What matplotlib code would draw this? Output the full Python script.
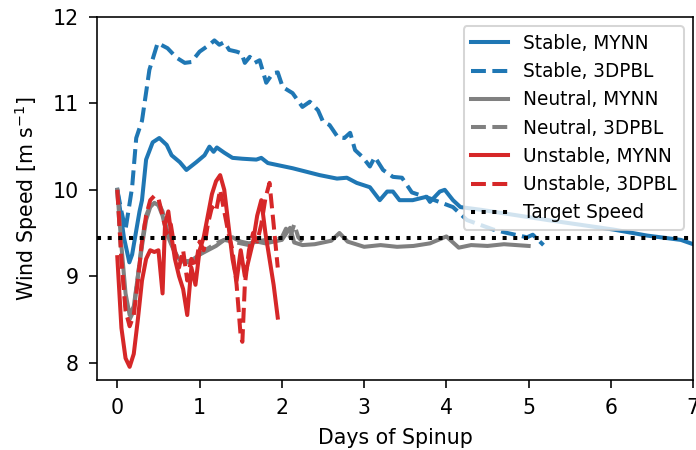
import numpy as np
import matplotlib
matplotlib.use('Agg')
import matplotlib.pyplot as plt

# Stable runs
stab_mynn_x = [0, 0.08, 0.146, 0.18, 0.27, 0.3, 0.35, 0.43, 0.51, 0.6, 0.66, 0.76, 0.84, 0.96,
               1.06, 1.12, 1.17, 1.21, 1.3, 1.4, 1.52, 1.69, 1.75, 1.83, 2.13, 2.46, 2.67,
               2.79, 2.91, 3.07, 3.19, 3.28, 3.35, 3.43, 3.59, 3.76, 3.8, 3.92, 3.98, 4.08,
               4.17, 4.41, 5.23, 6.03, 6.44, 6.85, 7.0]
stab_mynn_y = [10.0, 9.45, 9.16, 9.25, 9.75, 9.88, 10.35, 10.55, 10.6, 10.52, 10.4, 10.32, 10.23, 10.32,
               10.4, 10.5, 10.44, 10.49, 10.43, 10.37, 10.36, 10.35, 10.37, 10.31, 10.25, 10.17, 10.13,
               10.14, 10.08, 10.03, 9.88, 9.98, 9.98, 9.88, 9.88, 9.92, 9.86, 9.98, 10.0, 9.88,
               9.8, 9.77, 9.65, 9.54, 9.47, 9.42, 9.37]
stab_3d_x = [0, 0.05, 0.1, 0.18, 0.23, 0.3, 0.39, 0.49, 0.61, 0.72, 0.82, 0.9, 1.0, 1.12, 1.18,
             1.24, 1.3, 1.36, 1.45, 1.51, 1.55, 1.61, 1.67, 1.73, 1.81, 1.89, 1.95, 2.01, 2.13,
             2.25, 2.34, 2.44, 2.5, 2.58, 2.68, 2.76, 2.83, 2.89, 2.98, 3.07, 3.13, 3.23, 3.35,
             3.46, 3.58, 3.8, 4.08, 4.25, 4.57, 4.74, 4.98, 5.05, 5.18]
stab_3d_y = [10.0, 9.75, 9.54, 10.03, 10.6, 10.8, 11.39, 11.7, 11.64, 11.53, 11.47, 11.48, 11.6, 11.68, 11.73,
             11.68, 11.71, 11.62, 11.6, 11.58, 11.47, 11.54, 11.47, 11.5, 11.24, 11.35, 11.36, 11.19, 11.12,
             10.96, 11.02, 10.92, 10.79, 10.75, 10.61, 10.6, 10.66, 10.46, 10.38, 10.27, 10.38, 10.23, 10.15,
             10.14, 9.97, 9.9, 9.8, 9.65, 9.54, 9.5, 9.45, 9.48, 9.36]

# Neutral runs
neut_mynn_x = [0, 0.05, 0.1, 0.15, 0.2, 0.25, 0.3, 0.35, 0.4, 0.45, 0.5, 0.55, 0.6, 0.65, 0.7, 0.75,
               0.8, 0.9, 1.0, 1.1, 1.2, 1.3, 1.4, 1.5, 1.6, 1.7, 1.8, 1.9, 2.0, 2.1, 2.15, 2.25,
               2.4, 2.6, 2.7, 2.8, 3.0, 3.2, 3.4, 3.6, 3.8, 4.0, 4.15, 4.3, 4.5, 4.7, 4.85, 5.0]
neut_mynn_y = [10.0, 9.35, 8.8, 8.55, 8.65, 9.0, 9.35, 9.65, 9.8, 9.85, 9.82, 9.7, 9.5, 9.38, 9.27, 9.2,
               9.17, 9.18, 9.25, 9.3, 9.35, 9.42, 9.45, 9.4, 9.38, 9.4, 9.38, 9.4, 9.42, 9.56, 9.39, 9.36,
               9.37, 9.41, 9.5, 9.4, 9.34, 9.36, 9.34, 9.35, 9.38, 9.46, 9.33, 9.36, 9.35, 9.37, 9.36, 9.35]
neut_3d_x = [0, 0.05, 0.1, 0.15, 0.2, 0.25, 0.3, 0.35, 0.4, 0.45, 0.5, 0.55, 0.6, 0.65, 0.7, 0.75,
             0.8, 0.85, 0.9, 0.95, 1.0, 1.1, 1.2, 1.3, 1.4, 1.5, 1.6, 1.7, 1.8, 1.9, 2.0, 2.05,
             2.1, 2.15, 2.2, 2.25]
neut_3d_y = [10.0, 9.2, 8.65, 8.5, 8.6, 9.0, 9.4, 9.7, 9.82, 9.87, 9.85, 9.75, 9.55, 9.4, 9.28, 9.2,
             9.17, 9.16, 9.16, 9.2, 9.25, 9.32, 9.38, 9.42, 9.4, 9.38, 9.36, 9.4, 9.42, 9.4, 9.45, 9.55,
             9.45, 9.6, 9.45, 9.4]

# Unstable runs
unst_mynn_x = [0, 0.05, 0.1, 0.15, 0.2, 0.25, 0.3, 0.35, 0.4, 0.45, 0.5, 0.55, 0.58, 0.62, 0.66, 0.7,
               0.75, 0.8, 0.85, 0.9, 0.95, 1.0, 1.05, 1.1, 1.15, 1.2, 1.25, 1.3, 1.35, 1.4, 1.45,
               1.5, 1.55, 1.6, 1.65, 1.7, 1.75, 1.8, 1.85, 1.9, 1.95]
unst_mynn_y = [9.22, 8.4, 8.05, 7.95, 8.1, 8.5, 8.95, 9.2, 9.3, 9.28, 9.3, 8.8, 9.6, 9.75, 9.45, 9.2,
               9.0, 8.85, 8.55, 9.1, 8.9, 9.3, 9.45, 9.7, 9.95, 10.1, 10.17, 10.0, 9.6, 9.2, 8.95,
               9.3, 9.0, 9.2, 9.4, 9.7, 9.88, 9.5, 9.2, 8.9, 8.52]
unst_3d_x = [0, 0.05, 0.1, 0.15, 0.2, 0.25, 0.3, 0.35, 0.4, 0.45, 0.5, 0.55, 0.6, 0.65, 0.7, 0.75,
             0.8, 0.85, 0.9, 0.95, 1.0, 1.05, 1.1, 1.15, 1.2, 1.25, 1.3, 1.35, 1.4, 1.45, 1.5,
             1.52, 1.55, 1.6, 1.65, 1.7, 1.75, 1.8, 1.85, 1.9, 1.95]
unst_3d_y = [10.0, 9.2, 8.6, 8.42, 8.55, 8.95, 9.4, 9.7, 9.88, 9.93, 9.9, 9.7, 9.5, 9.6, 9.3, 9.1,
             9.3, 8.95, 9.2, 9.1, 9.4, 9.3, 9.6, 9.8, 9.75, 10.0, 9.75, 9.5, 9.3, 8.9, 8.3,
             8.24, 8.9, 9.3, 9.5, 9.4, 9.6, 9.9, 10.08, 9.6, 9.1]

target_speed = 9.44

fig = plt.figure(figsize=(696 / 145, 450 / 145), dpi=145)
ax = fig.add_axes([0.139, 0.156, 0.857, 0.806])

lw = 2
ax.plot(stab_mynn_x, stab_mynn_y, color='tab:blue', lw=lw, label='Stable, MYNN')
ax.plot(stab_3d_x, stab_3d_y, color='tab:blue', lw=lw, ls='--', label='Stable, 3DPBL')
ax.plot(neut_mynn_x, neut_mynn_y, color='gray', lw=lw, label='Neutral, MYNN')
ax.plot(neut_3d_x, neut_3d_y, color='gray', lw=lw, ls='--', label='Neutral, 3DPBL')
ax.plot(unst_mynn_x, unst_mynn_y, color='tab:red', lw=lw, label='Unstable, MYNN')
ax.plot(unst_3d_x, unst_3d_y, color='tab:red', lw=lw, ls='--', label='Unstable, 3DPBL')
ax.axhline(target_speed, color='k', lw=lw, ls=':', label='Target Speed')

ax.set_xlim(-0.25, 7)
ax.set_ylim(7.8, 12)
ax.set_yticks([8, 9, 10, 11, 12])
ax.tick_params(axis='both', which='major', length=4, pad=5, labelsize=10.2)
ax.set_xlabel('Days of Spinup', fontsize=10.2, labelpad=5)
ax.set_ylabel(r'Wind Speed [m s$^{-1}$]', fontsize=10.2, labelpad=6)
ax.legend(loc='upper right', fontsize=9.2)

plt.savefig('out.png')
